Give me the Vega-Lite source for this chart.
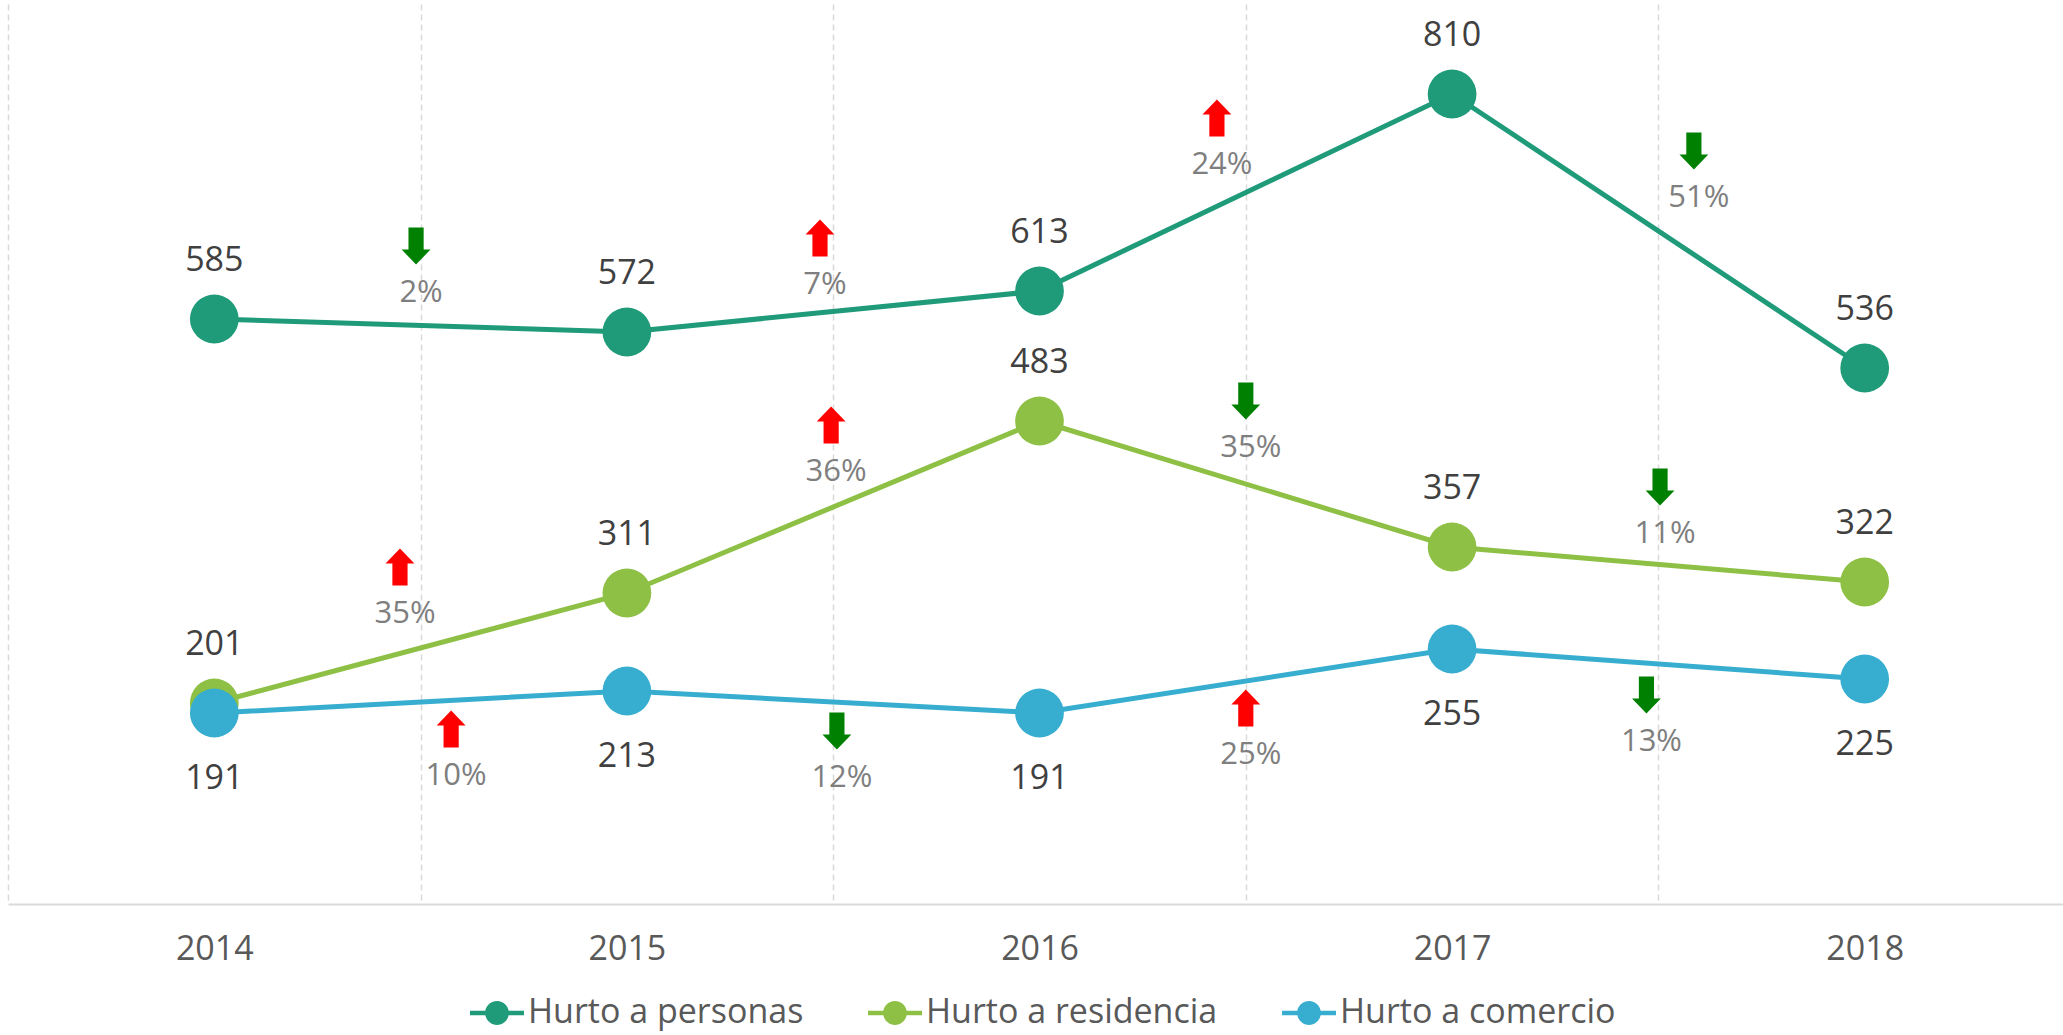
{
  "$schema": "https://vega.github.io/schema/vega-lite/v6.json",
  "width": 2055,
  "height": 900,
  "autosize": {"type": "none"},
  "padding": {"left": 8, "top": 4, "right": 0, "bottom": 131},
  "background": "white",
  "config": {"view": {"stroke": null}, "font": "Open Sans"},
  "datasets": {
    "series": [
      {"year": "2014", "serie": "Hurto a personas", "value": 585},
      {"year": "2015", "serie": "Hurto a personas", "value": 572},
      {"year": "2016", "serie": "Hurto a personas", "value": 613},
      {"year": "2017", "serie": "Hurto a personas", "value": 810},
      {"year": "2018", "serie": "Hurto a personas", "value": 536},
      {"year": "2014", "serie": "Hurto a residencia", "value": 201},
      {"year": "2015", "serie": "Hurto a residencia", "value": 311},
      {"year": "2016", "serie": "Hurto a residencia", "value": 483},
      {"year": "2017", "serie": "Hurto a residencia", "value": 357},
      {"year": "2018", "serie": "Hurto a residencia", "value": 322},
      {"year": "2014", "serie": "Hurto a comercio", "value": 191},
      {"year": "2015", "serie": "Hurto a comercio", "value": 213},
      {"year": "2016", "serie": "Hurto a comercio", "value": 191},
      {"year": "2017", "serie": "Hurto a comercio", "value": 255},
      {"year": "2018", "serie": "Hurto a comercio", "value": 225}
    ],
    "changes": [
      {"serie": "Hurto a personas", "pos": 2014.489, "level": 658, "dir": "baja", "pct": "2%"},
      {"serie": "Hurto a personas", "pos": 2015.468, "level": 666, "dir": "sube", "pct": "7%"},
      {"serie": "Hurto a personas", "pos": 2016.43, "level": 786, "dir": "sube", "pct": "24%"},
      {"serie": "Hurto a personas", "pos": 2017.586, "level": 753, "dir": "baja", "pct": "51%"},
      {"serie": "Hurto a residencia", "pos": 2014.45, "level": 337, "dir": "sube", "pct": "35%"},
      {"serie": "Hurto a residencia", "pos": 2015.495, "level": 479, "dir": "sube", "pct": "36%"},
      {"serie": "Hurto a residencia", "pos": 2016.5, "level": 503, "dir": "baja", "pct": "35%"},
      {"serie": "Hurto a residencia", "pos": 2017.504, "level": 417, "dir": "baja", "pct": "11%"},
      {"serie": "Hurto a comercio", "pos": 2014.574, "level": 175, "dir": "sube", "pct": "10%"},
      {"serie": "Hurto a comercio", "pos": 2015.509, "level": 173, "dir": "baja", "pct": "12%"},
      {"serie": "Hurto a comercio", "pos": 2016.5, "level": 196, "dir": "sube", "pct": "25%"},
      {"serie": "Hurto a comercio", "pos": 2017.471, "level": 209, "dir": "baja", "pct": "13%"}
    ]
  },
  "layer": [
    {
      "data": {"name": "series"},
      "encoding": {
        "x": {
          "field": "year", "type": "ordinal",
          "scale": {"type": "band", "range": [0, 2063], "paddingInner": 0, "paddingOuter": 0},
          "axis": {
            "title": null, "labelAngle": 0, "tickBand": "extent", "ticks": false,
            "grid": true, "gridDash": [6, 4], "gridColor": "#D9D9D9", "gridWidth": 1.5,
            "domainColor": "#D9D9D9", "domainWidth": 2,
            "labelFont": "Open Sans", "labelFontSize": 34, "labelColor": "#595959", "labelPadding": 28
          }
        },
        "y": {"field": "value", "type": "quantitative", "scale": {"domain": [0, 900], "nice": false}, "axis": null}
      },
      "layer": [
        {
          "mark": {"type": "line", "strokeWidth": 5},
          "encoding": {
            "color": {
              "field": "serie", "type": "nominal",
              "scale": {"domain": ["Hurto a personas", "Hurto a residencia", "Hurto a comercio"], "range": ["#1F9B7A", "#8DC044", "#37AECF"]},
              "legend": {
                "orient": "none", "direction": "horizontal", "legendX": 462, "legendY": 982,
                "title": null, "padding": 0,
                "symbolType": "M-1,-0.08L1,-0.08L1,0.08L-1,0.08Z M-0.44,0A0.44,0.44 0 1 1 0.44,0A0.44,0.44 0 1 1 -0.44,0Z",
                "symbolSize": 2916, "symbolStrokeWidth": 0,
                "labelFont": "Open Sans", "labelFontSize": 34, "labelColor": "#595959",
                "labelOffset": 4, "columnPadding": 64, "labelLimit": 0,
                "encode": {"symbols": {"update": {"fill": {"scale": "color", "field": "value"}, "opacity": {"value": 1}}}}
              }
            }
          }
        },
        {
          "mark": {"type": "circle", "size": 2376, "opacity": 1},
          "encoding": {"color": {"field": "serie", "type": "nominal"}}
        },
        {
          "transform": [{"filter": "datum.serie !== 'Hurto a comercio'"}],
          "mark": {"type": "text", "dy": -58, "font": "Open Sans", "fontSize": 34, "color": "#404040", "baseline": "middle"},
          "encoding": {"text": {"field": "value", "type": "quantitative"}}
        },
        {
          "transform": [{"filter": "datum.serie === 'Hurto a comercio'"}],
          "mark": {"type": "text", "dy": 66, "font": "Open Sans", "fontSize": 34, "color": "#404040", "baseline": "middle"},
          "encoding": {"text": {"field": "value", "type": "quantitative"}}
        }
      ]
    },
    {
      "data": {"name": "changes"},
      "encoding": {
        "x": {"field": "pos", "type": "quantitative", "scale": {"domain": [2013.5, 2018.5], "range": [0, 2063], "nice": false, "zero": false}, "axis": null},
        "y": {"field": "level", "type": "quantitative", "scale": {"domain": [0, 900], "nice": false}, "axis": null}
      },
      "layer": [
        {
          "mark": {"type": "point", "filled": true, "size": 1369, "opacity": 1, "strokeWidth": 0},
          "encoding": {
            "shape": {"field": "dir", "type": "nominal", "scale": {"domain": ["sube", "baja"], "range": ["M0,-1L0.78,-0.19L0.41,-0.19L0.41,1L-0.41,1L-0.41,-0.19L-0.78,-0.19Z", "M0,1L0.78,0.19L0.41,0.19L0.41,-1L-0.41,-1L-0.41,0.19L-0.78,0.19Z"]}, "legend": null},
            "fill": {"field": "dir", "type": "nominal", "scale": {"domain": ["sube", "baja"], "range": ["#FF0000", "#008000"]}, "legend": null}
          }
        },
        {
          "mark": {"type": "text", "dy": 47, "dx": 5, "font": "Open Sans", "fontSize": 31, "color": "#7F7F7F", "baseline": "middle"},
          "encoding": {"text": {"field": "pct", "type": "nominal"}}
        }
      ]
    }
  ],
  "resolve": {"scale": {"x": "independent"}}
}
